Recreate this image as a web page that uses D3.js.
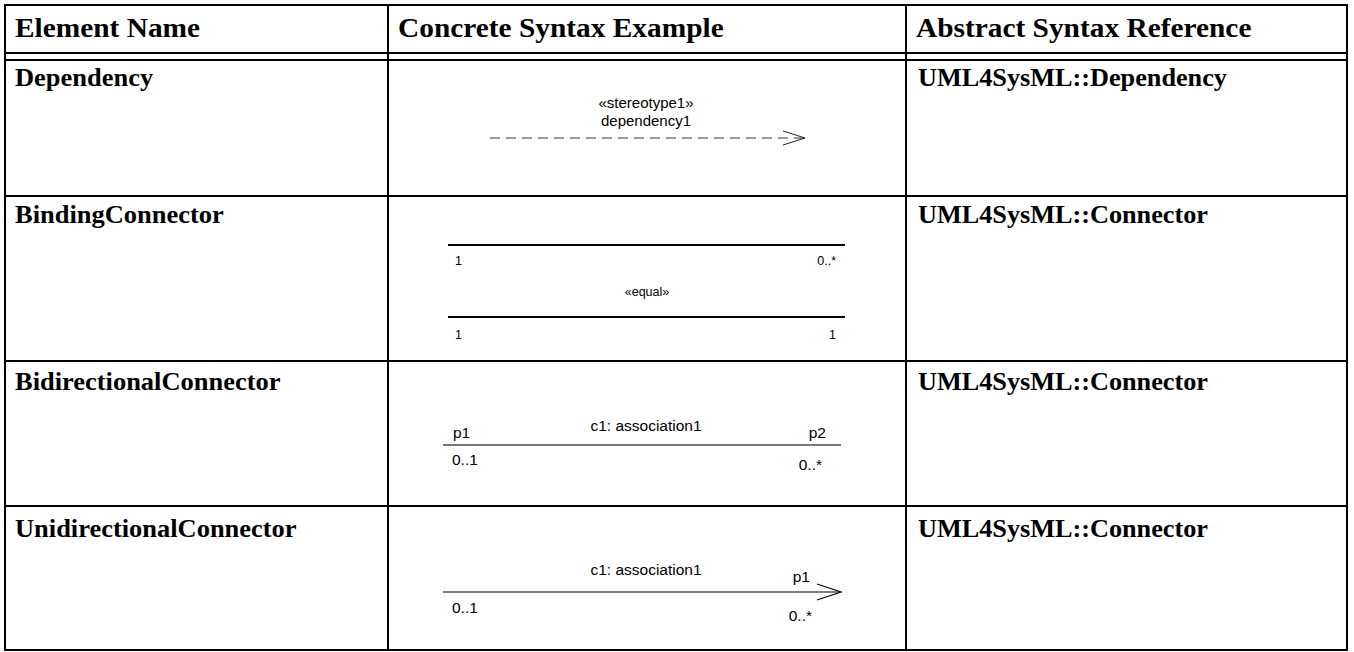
<!DOCTYPE html>
<html><head><meta charset="utf-8">
<script src="https://cdn.jsdelivr.net/npm/d3@7"></script>
<style>body{margin:0;background:#fff}svg{display:block}</style>
</head><body><svg id="c" width="1354" height="652"></svg>
<script>
// ---- data ----
const columnHeaders = ["Element Name", "Concrete Syntax Example", "Abstract Syntax Reference"];
const elementNames = ["Dependency", "BindingConnector", "BidirectionalConnector", "UnidirectionalConnector"];
const syntaxRefs = ["UML4SysML::Dependency", "UML4SysML::Connector", "UML4SysML::Connector", "UML4SysML::Connector"];
const dependencyLabels = ["«stereotype1»", "dependency1"];
const bindingTopEnds = ["1", "0..*"];
const bindingBottomEnds = ["1", "1"];
const bindingStereotype = ["«equal»"];
const bidiName = ["c1: association1"];
const bidiRoles = ["p1", "p2"];
const bidiMults = ["0..1", "0..*"];
const uniName = ["c1: association1"];
const uniRoles = ["p1"];
const uniMults = ["0..1", "0..*"];

// ---- layout ----
const svg = d3.select("#c");
const colEdges = [5, 388, 906, 1347];
const rowEdges = [60, 196, 361, 506, 650];

function txt(g, s, px, py, opts) {
  return g.append("text")
    .attr("transform", `translate(${px},${py}) scale(${opts.sx || 1},1)`)
    .attr("font-family", opts.family)
    .attr("font-size", opts.size)
    .attr("font-weight", opts.weight || "normal")
    .attr("text-anchor", opts.anchor || "start")
    .attr("fill", opts.fill || "#000")
    .text(s);
}
const serif = {family: "'Liberation Serif','Times New Roman',serif", weight: "bold", sx: 1.08};
const sans = {family: "'Liberation Sans',Arial,sans-serif"};

// ---- table grid ----
const grid = svg.append("g").attr("stroke", "#000").attr("stroke-width", 2).attr("fill", "none");
grid.append("rect").attr("x", colEdges[0]).attr("y", 5).attr("width", colEdges[3] - colEdges[0]).attr("height", rowEdges[4] - 5);
[53, 60].forEach(v => grid.append("line").attr("x1", colEdges[0]).attr("x2", colEdges[3]).attr("y1", v).attr("y2", v));
rowEdges.slice(1, 4).forEach(v => grid.append("line").attr("x1", colEdges[0]).attr("x2", colEdges[3]).attr("y1", v).attr("y2", v));
colEdges.slice(1, 3).forEach(v => grid.append("line").attr("x1", v).attr("x2", v).attr("y1", 5).attr("y2", rowEdges[4]));

// ---- headers ----
const hg = svg.append("g");
columnHeaders.forEach((h, i) => txt(hg, h, colEdges[i] + 10, 37, {...serif, size: 27.2}));

// ---- row names & refs ----
const nameBase = [86, 223, 390, 537];
elementNames.forEach((n, i) => txt(hg, n, colEdges[0] + 10, nameBase[i], {...serif, size: 24.5}));
syntaxRefs.forEach((n, i) => txt(hg, n, colEdges[2] + 12, nameBase[i], {...serif, size: 24.3}));

const dg = svg.append("g");

// Row 1: Dependency
txt(dg, dependencyLabels[0], 646, 108, {...sans, size: 15, anchor: "middle"});
txt(dg, dependencyLabels[1], 646, 126, {...sans, size: 15, anchor: "middle"});
dg.append("line").attr("x1", 490).attr("x2", 804).attr("y1", 138).attr("y2", 138)
  .attr("stroke", "#333").attr("stroke-width", 1).attr("stroke-dasharray", "10,6");
dg.append("path").attr("d", d3.line()([[783, 131], [805, 138], [783, 145]]))
  .attr("fill", "none").attr("stroke", "#222").attr("stroke-width", 1);

// Row 2: Binding connector
[245, 317].forEach(v => dg.append("line").attr("x1", 448).attr("x2", 845).attr("y1", v).attr("y2", v)
  .attr("stroke", "#000").attr("stroke-width", 2));
txt(dg, bindingTopEnds[0], 455, 265, {...sans, size: 12.5});
txt(dg, bindingTopEnds[1], 836, 265, {...sans, size: 12.5, anchor: "end"});
txt(dg, bindingStereotype[0], 647, 296, {...sans, size: 12.5, anchor: "middle"});
txt(dg, bindingBottomEnds[0], 455, 339, {...sans, size: 12.5});
txt(dg, bindingBottomEnds[1], 836, 339, {...sans, size: 12.5, anchor: "end"});

// Row 3: Bidirectional
dg.append("line").attr("x1", 443).attr("x2", 841).attr("y1", 445).attr("y2", 445)
  .attr("stroke", "#777").attr("stroke-width", 2);
txt(dg, bidiName[0], 646, 431, {...sans, size: 15.5, anchor: "middle"});
txt(dg, bidiRoles[0], 453, 438, {...sans, size: 15.5});
txt(dg, bidiRoles[1], 826, 438, {...sans, size: 15.5, anchor: "end"});
txt(dg, bidiMults[0], 452, 465, {...sans, size: 15.5});
txt(dg, bidiMults[1], 822, 470, {...sans, size: 15.5, anchor: "end"});

// Row 4: Unidirectional
dg.append("line").attr("x1", 443).attr("x2", 841).attr("y1", 592).attr("y2", 592)
  .attr("stroke", "#000").attr("stroke-width", 1.2);
dg.append("path").attr("d", d3.line()([[817, 584], [841, 592], [817, 600]]))
  .attr("fill", "none").attr("stroke", "#000").attr("stroke-width", 1.2);
txt(dg, uniName[0], 646, 575, {...sans, size: 15.5, anchor: "middle"});
txt(dg, uniRoles[0], 810, 582, {...sans, size: 15.5, anchor: "end"});
txt(dg, uniMults[0], 452, 613, {...sans, size: 15.5});
txt(dg, uniMults[1], 812, 621, {...sans, size: 15.5, anchor: "end"});
</script></body></html>
